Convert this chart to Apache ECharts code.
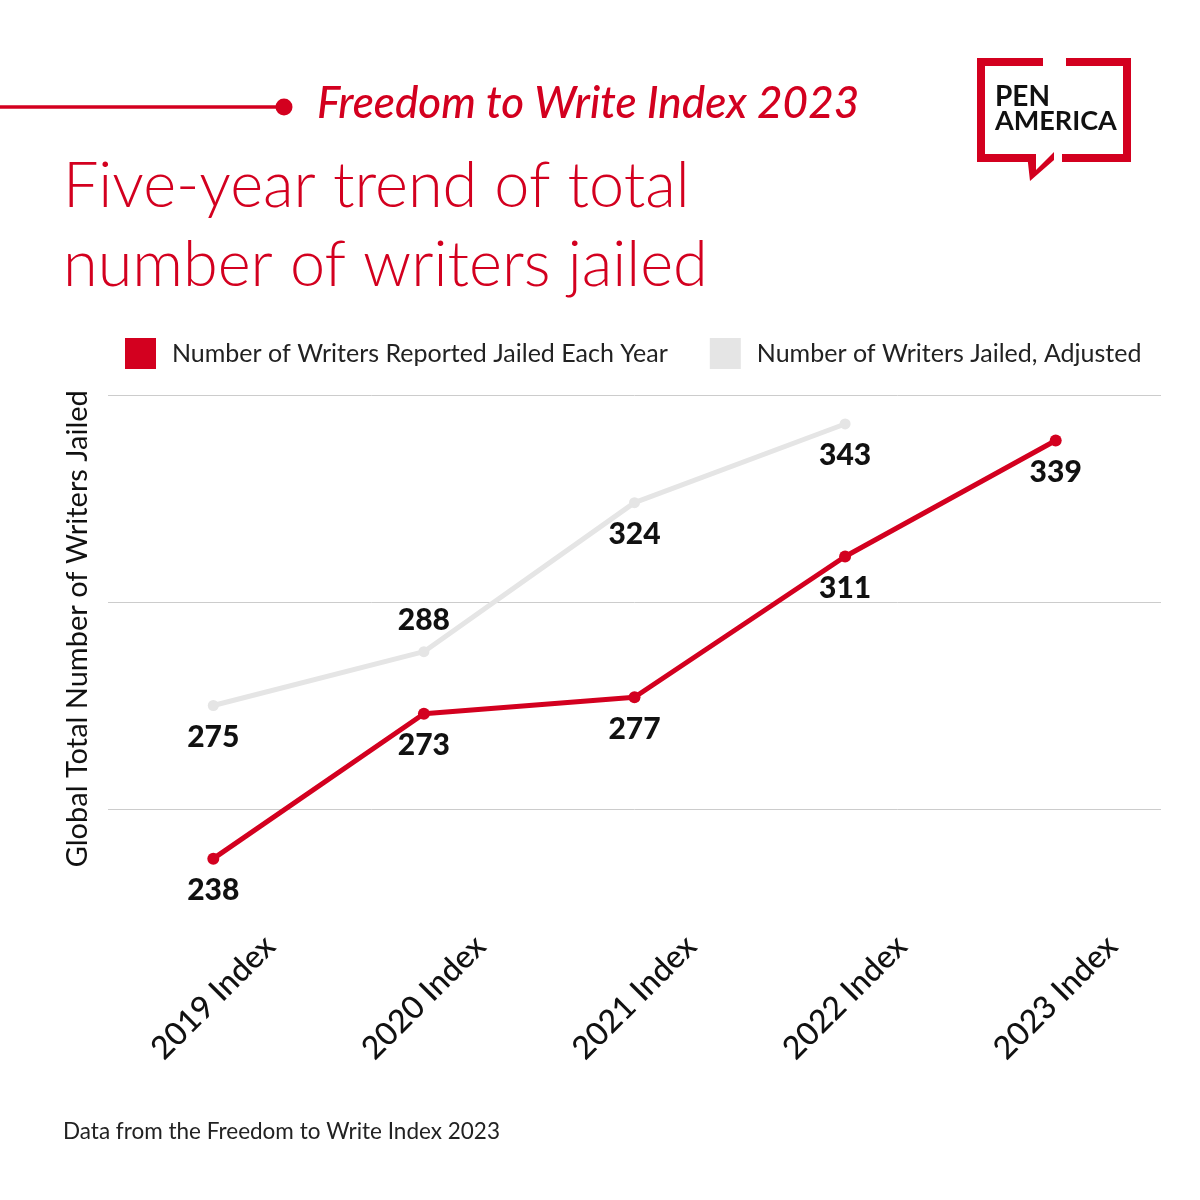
<!DOCTYPE html>
<html>
<head>
<meta charset="utf-8">
<script src="https://cdn.jsdelivr.net/npm/echarts@6/dist/echarts.min.js"></script>
<style>
html,body{margin:0;padding:0;background:#fff;}
#chart{width:1200px;height:1200px;}
</style>
</head>
<body>
<div id="chart"></div>
<script>
const categories = ['2019 Index', '2020 Index', '2021 Index', '2022 Index', '2023 Index'];
const reportedJailed = [238, 273, 277, 311, 339];
const adjustedJailed = [275, 288, 324, 343, null];
const adjustedLabelPos = ['bottom', 'top', 'bottom', 'bottom'];
const seriesNames = ['Number of Writers Reported Jailed Each Year', 'Number of Writers Jailed, Adjusted'];
const kicker = 'Freedom to Write Index 2023';
const titleLines = ['Five-year trend of total', 'number of writers jailed'];
const yAxisName = 'Global Total Number of Writers Jailed';
const sourceNote = 'Data from the Freedom to Write Index 2023';

const RED = '#d3001f';
const GRAY = '#e5e5e5';
const FONT = 'Lato, "Noto Sans", sans-serif';

const chart = echarts.init(document.getElementById('chart'));

const labelStyle = {
  show: true,
  fontFamily: FONT,
  fontWeight: 900,
  fontSize: 30,
  color: '#111',
  distance: 11
};

chart.setOption({
  backgroundColor: '#fff',
  animation: false,
  textStyle: { fontFamily: FONT },
  grid: { left: 108, right: 39, top: 395, bottom: 287.5, containLabel: false },
  legend: {
    left: 125, top: 338,
    padding: 0,
    itemWidth: 31, itemHeight: 31,
    itemGap: 42,
    icon: 'rect',
    textStyle: { fontFamily: FONT, fontSize: 25, color: '#222', padding: [0, 0, 0, 11] },
    data: [
      { name: seriesNames[0], itemStyle: { color: RED } },
      { name: seriesNames[1], itemStyle: { color: GRAY } }
    ]
  },
  xAxis: {
    type: 'category',
    data: categories,
    boundaryGap: true,
    axisLine: { show: false },
    axisTick: { show: false },
    axisLabel: {
      rotate: 45,
      align: 'center',
      verticalAlign: 'middle',
      margin: 85,
      fontFamily: FONT,
      fontSize: 32,
      color: '#111',
      fontWeight: 500
    }
  },
  yAxis: {
    type: 'value',
    min: 225, max: 350, interval: 25,
    name: yAxisName,
    nameLocation: 'middle',
    nameGap: 16,
    nameTextStyle: { fontFamily: FONT, fontSize: 29, color: '#111', padding: [0, 0, 0, 50] },
    axisLabel: { show: false },
    axisLine: { show: false },
    axisTick: { show: false },
    splitLine: { show: true, lineStyle: { color: ['rgba(0,0,0,0)', '#cccccc'], width: 1 } }
  },
  series: [
    {
      name: seriesNames[1],
      type: 'line',
      data: adjustedJailed.map((v, i) => ({ value: v, label: { position: adjustedLabelPos[i] } })),
      color: GRAY,
      lineStyle: { color: GRAY, width: 5 },
      itemStyle: { color: GRAY },
      symbol: 'circle', symbolSize: 11,
      label: labelStyle,
      z: 2
    },
    {
      name: seriesNames[0],
      type: 'line',
      data: reportedJailed,
      color: RED,
      lineStyle: { color: RED, width: 5 },
      itemStyle: { color: RED },
      symbol: 'circle', symbolSize: 12,
      label: Object.assign({}, labelStyle, { position: 'bottom' }),
      z: 3
    }
  ],
  graphic: [
    { type: 'line', shape: { x1: 0, y1: 107, x2: 283, y2: 107 }, style: { stroke: RED, lineWidth: 3.5 } },
    { type: 'circle', shape: { cx: 284, cy: 107, r: 8.5 }, style: { fill: RED } },
    { type: 'text', left: 317, top: 82, style: { text: kicker, fill: RED, font: 'italic 500 44px ' + FONT } },
    { type: 'text', left: 63, top: 155, style: { text: titleLines[0], fill: RED, font: '300 63px ' + FONT } },
    { type: 'text', left: 63, top: 234, style: { text: titleLines[1], fill: RED, font: '300 63px ' + FONT } },
    { type: 'text', left: 63, top: 1120, style: { text: sourceNote, fill: '#222', font: '22.5px ' + FONT } },
    // PEN AMERICA logo
    { type: 'polyline', shape: { points: [[1043, 62], [981, 62], [981, 158], [1034, 158]] }, style: { stroke: RED, fill: null, lineWidth: 8 } },
    { type: 'polyline', shape: { points: [[1066, 62], [1127, 62], [1127, 158], [1062, 158]] }, style: { stroke: RED, fill: null, lineWidth: 8 } },
    { type: 'polygon', shape: { points: [[1027, 154], [1036, 154], [1036, 170], [1054, 152], [1054, 160], [1030, 181]] }, style: { fill: RED } },
    { type: 'text', left: 995, top: 83, style: { text: 'PEN', fill: '#111', font: 'bold 28px ' + FONT } },
    { type: 'text', left: 995, top: 108, style: { text: 'AMERICA', fill: '#111', font: 'bold 27px ' + FONT } }
  ]
});
</script>
</body>
</html>
